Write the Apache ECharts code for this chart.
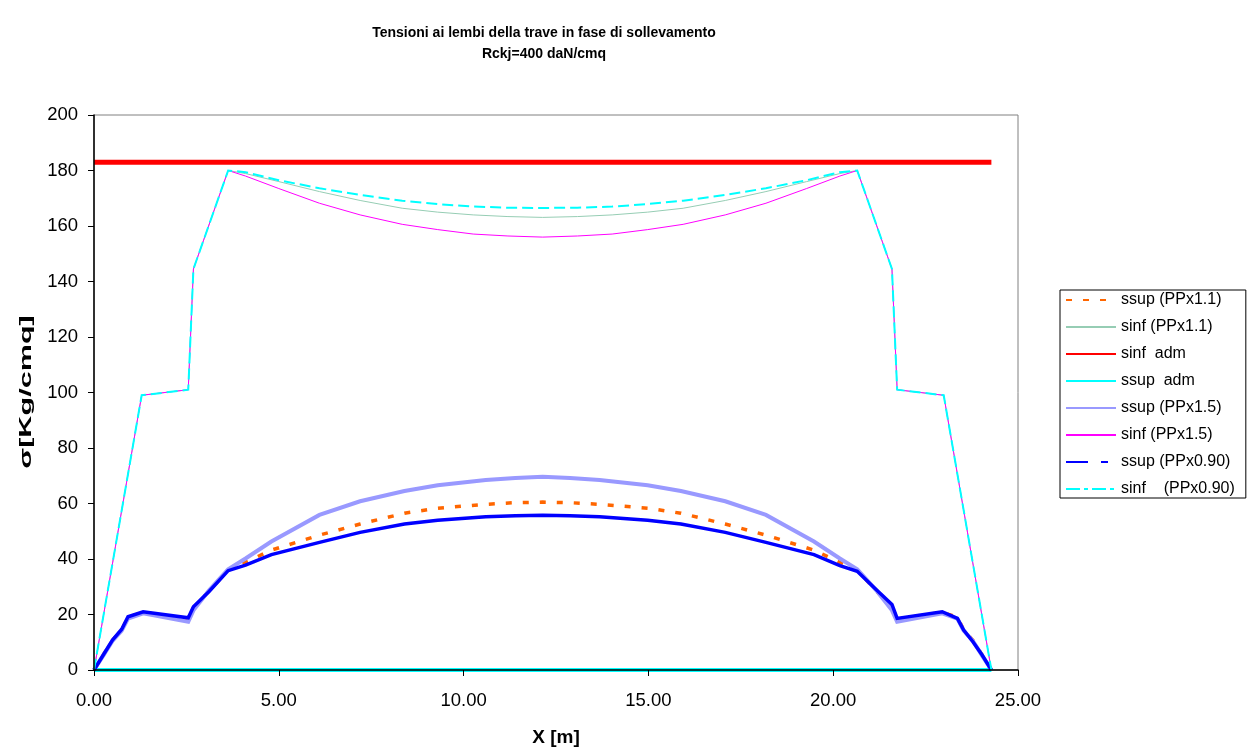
<!DOCTYPE html>
<html>
<head>
<meta charset="utf-8">
<script src="https://cdn.jsdelivr.net/npm/echarts@6/dist/echarts.min.js"></script>
<style>
html,body{margin:0;padding:0;background:#fff;}
#chart{width:1248px;height:747px;}
</style>
</head>
<body>
<div id="chart"></div>
<script>
// X positions (m) for the bottom-fibre (sinf) curves
const xTop = [0, 1.29, 2.55, 2.69, 3.63, 4.1, 5.0, 6.1, 7.2, 8.34, 9.3, 10.26, 11.2, 12.14, 13.08, 14.02, 14.98, 15.94, 17.08, 18.18, 19.28, 20.18, 20.65, 21.59, 21.73, 22.99, 24.28];
const sinf11 = [0, 99, 101, 144.5, 180, 178.9, 176.0, 172.4, 169.2, 166.4, 165.0, 164.0, 163.4, 163.1, 163.4, 164.0, 165.0, 166.4, 169.2, 172.4, 176.0, 178.9, 180, 144.5, 101, 99, 0];
const sinf15 = [0, 99, 101, 144.5, 180, 178.0, 173.5, 168.2, 164.0, 160.6, 158.7, 157.1, 156.4, 156.0, 156.4, 157.1, 158.7, 160.6, 164.0, 168.2, 173.5, 178.0, 180, 144.5, 101, 99, 0];
const sinf090 = [0, 99, 101, 144.5, 180, 179.4, 176.5, 173.6, 171.2, 169.1, 167.9, 167.0, 166.6, 166.5, 166.6, 167.0, 167.9, 169.1, 171.2, 173.6, 176.5, 179.4, 180, 144.5, 101, 99, 0];

// X positions (m) for the top-fibre (ssup) curves
const xBot = [0, 0.25, 0.5, 0.75, 0.92, 1.33, 2.55, 2.69, 3.12, 3.63, 4.1, 4.8, 6.1, 7.2, 8.4, 9.3, 10.6, 11.4, 12.14, 12.88, 13.68, 14.98, 15.88, 17.08, 18.18, 19.48, 20.18, 20.65, 21.16, 21.59, 21.73, 22.95, 23.36, 23.53, 23.78, 24.03, 24.28];
const ssup11 = [0, 5.4, 10.7, 14.5, 19.0, 20.8, 18.3, 22.4, 28.6, 36.0, 38.8, 43.2, 48.6, 52.6, 56.5, 58.3, 59.7, 60.3, 60.5, 60.3, 59.7, 58.3, 56.5, 52.6, 48.6, 43.2, 38.8, 36.0, 28.6, 22.4, 18.3, 20.8, 19.0, 14.5, 10.7, 5.4, 0];
const ssup15 = [0, 5.2, 10.5, 14.2, 18.5, 20.4, 17.4, 21.5, 28.8, 36.3, 40.2, 46.3, 55.9, 60.8, 64.5, 66.6, 68.5, 69.2, 69.6, 69.2, 68.5, 66.6, 64.5, 60.8, 55.9, 46.3, 40.2, 36.3, 28.8, 21.5, 17.4, 20.4, 18.5, 14.2, 10.5, 5.2, 0];
const ssup090 = [0, 5.4, 10.8, 14.7, 19.2, 21.0, 18.8, 22.8, 28.4, 35.8, 37.8, 41.6, 46.0, 49.6, 52.6, 54.0, 55.2, 55.6, 55.8, 55.6, 55.2, 54.0, 52.6, 49.6, 46.0, 41.6, 37.6, 35.6, 29.0, 23.6, 18.6, 21.0, 18.6, 14.4, 10.2, 5.4, 0];

// Allowable stresses (horizontal lines)
const xAdm = [0, 24.28];
const sinfAdm = [183, 183];
const ssupAdm = [0, 0];

const xTicks = [0, 5, 10, 15, 20, 25];
const yTicks = [0, 20, 40, 60, 80, 100, 120, 140, 160, 180, 200];

const names = ['ssup (PPx1.1)', 'sinf (PPx1.1)', 'sinf  adm', 'ssup  adm', 'ssup (PPx1.5)', 'sinf (PPx1.5)', 'ssup (PPx0.90)', 'sinf    (PPx0.90)'];

function pairs(xs, ys) { return xs.map((x, i) => [x, ys[i]]); }

const FONT = '"Liberation Sans", Arial, sans-serif';

const chart = echarts.init(document.getElementById('chart'), null, {renderer: 'canvas'});

function line(name, xs, ys, color, width, type) {
  return {
    name: name, type: 'line', data: pairs(xs, ys),
    symbol: 'none', showSymbol: false, smooth: false, animation: false,
    lineStyle: {color: color, width: width, type: type || 'solid', cap: 'butt', join: 'miter'},
    itemStyle: {color: color},
    emphasis: {disabled: true}
  };
}

const legendData = names.map(n => ({name: n}));
legendData[6].lineStyle = {type: [22, 13, 7, 100]};
legendData[7].lineStyle = {type: [14, 4, 4, 4]};

chart.setOption({
  backgroundColor: '#ffffff',
  animation: false,
  title: {
    text: 'Tensioni ai lembi della trave in fase di sollevamento\nRckj=400 daN/cmq',
    left: 539, top: 18, textAlign: 'center',
    textStyle: {fontFamily: FONT, fontSize: 14, fontWeight: 'bold', color: '#000', lineHeight: 21}
  },
  legend: {
    orient: 'vertical', left: 1060, top: 290,
    padding: [2, 11, 1, 5], itemGap: 11, itemWidth: 50, itemHeight: 14,
    borderColor: '#000', borderWidth: 1, backgroundColor: '#fff',
    textStyle: {fontFamily: FONT, fontSize: 16, color: '#000'},
    itemStyle: {opacity: 0},
    data: legendData,
    selectedMode: false
  },
  graphic: [{
    type: 'text', x: 26, y: 392, rotation: Math.PI / 2, scaleX: 1.8, scaleY: 1,
    style: {text: 'σ[Kg/cmq]', font: 'bold 17px ' + FONT, fill: '#000', align: 'center', verticalAlign: 'middle'}
  }],
  grid: {
    left: 94, right: 230, top: 115, bottom: 77,
    outerBoundsMode: 'none', containLabel: false,
    show: true, borderColor: '#808080', borderWidth: 1, backgroundColor: '#fff'
  },
  xAxis: {
    type: 'value', min: xTicks[0], max: xTicks[xTicks.length - 1], interval: 5,
    name: 'X [m]', nameLocation: 'middle', nameGap: 58,
    nameTextStyle: {fontFamily: FONT, fontSize: 19, fontWeight: 'bold', color: '#000'},
    axisLine: {show: true, onZero: false, lineStyle: {color: '#000', width: 1.5}},
    axisTick: {show: true, inside: false, length: 6, lineStyle: {color: '#000'}},
    axisLabel: {margin: 21, fontFamily: FONT, fontSize: 18.5, color: '#000', formatter: v => v.toFixed(2)},
    splitLine: {show: false}, z: 5
  },
  yAxis: {
    type: 'value', min: yTicks[0], max: yTicks[yTicks.length - 1], interval: 20,
    axisLine: {show: true, onZero: false, lineStyle: {color: '#000', width: 1.5}},
    axisTick: {show: true, inside: false, length: 6, lineStyle: {color: '#000'}},
    axisLabel: {margin: 16, fontFamily: FONT, fontSize: 18.5, color: '#000'},
    splitLine: {show: false}, z: 5
  },
  series: [
    line(names[0], xBot, ssup11, '#FF6600', 3.5, [6, 11]),
    line(names[1], xTop, sinf11, '#96CDB4', 1),
    line(names[2], xAdm, sinfAdm, '#FF0000', 5),
    line(names[3], xAdm, ssupAdm, '#00FFFF', 4),
    line(names[4], xBot, ssup15, '#9999FF', 4),
    line(names[5], xTop, sinf15, '#FF00FF', 1),
    line(names[6], xBot, ssup090, '#0000FF', 3.5),
    line(names[7], xTop, sinf090, '#00FFFF', 2, [11, 5])
  ]
});
</script>
</body>
</html>
